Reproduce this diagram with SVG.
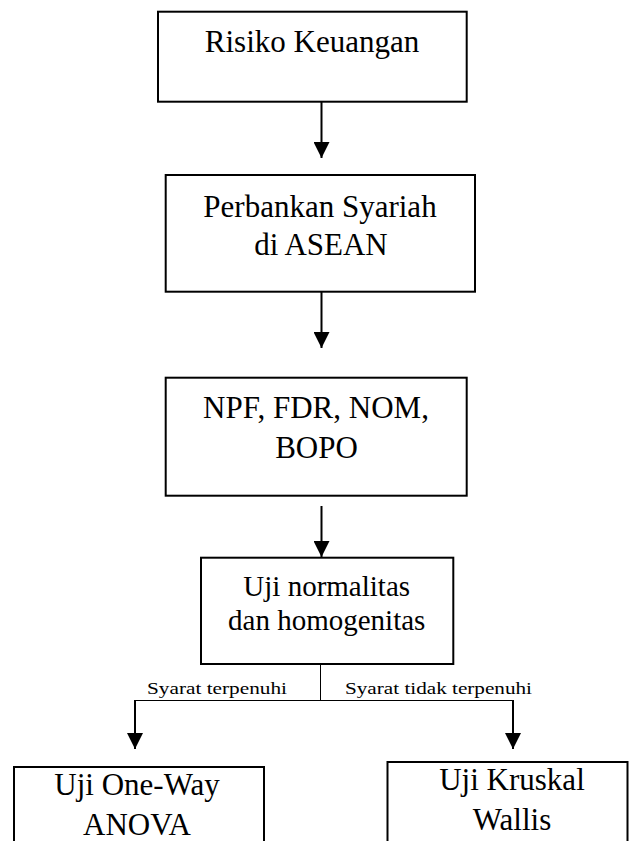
<svg xmlns="http://www.w3.org/2000/svg" width="630" height="841" viewBox="0 0 630 841">
<style>
.box{fill:#fff;stroke:#000;stroke-width:2}
.t{font-family:"Liberation Serif","Times New Roman",serif;font-size:31px;fill:#000;text-anchor:middle}
.t2{font-family:"Liberation Serif","Times New Roman",serif;font-size:29px;fill:#000;text-anchor:middle}
.lbl{font-family:"Liberation Serif","Times New Roman",serif;font-size:17px;fill:#000}
.ln{stroke:#000;stroke-width:2;fill:none}
.thin{stroke:#000;stroke-width:1;fill:none}
</style>
<defs>
<marker id="ah" markerUnits="userSpaceOnUse" markerWidth="18" markerHeight="16" refX="16" refY="8" orient="auto">
<path d="M0,0 L16,8 L0,16 Z" fill="#000"/>
</marker>
</defs>
<rect width="630" height="841" fill="#fff"/>
<g id="connectors">
<line class="ln" x1="321.5" y1="102" x2="321.5" y2="158" marker-end="url(#ah)"/>
<line class="ln" x1="321.5" y1="292" x2="321.5" y2="348" marker-end="url(#ah)"/>
<line class="ln" x1="321.5" y1="506" x2="321.5" y2="557" marker-end="url(#ah)"/>
<line class="thin" x1="320.5" y1="664" x2="320.5" y2="700"/>
<line class="thin" x1="135" y1="700.5" x2="513" y2="700.5"/>
<line class="ln" x1="135" y1="700" x2="135" y2="749" marker-end="url(#ah)"/>
<line class="ln" x1="513" y1="700" x2="513" y2="749" marker-end="url(#ah)"/>
<text class="lbl" x="147" y="694" textLength="140" lengthAdjust="spacingAndGlyphs">Syarat terpenuhi</text>
<text class="lbl" x="345" y="694" textLength="187" lengthAdjust="spacingAndGlyphs">Syarat tidak terpenuhi</text>
</g>
<g id="n1">
<rect class="box" x="158" y="11.7" width="308.7" height="90"/>
<text class="t" x="312" y="52">Risiko Keuangan</text>
</g>
<g id="n2">
<rect class="box" x="165.7" y="175" width="309.3" height="116.7"/>
<text class="t" x="320" y="216.7">Perbankan Syariah</text>
<text class="t" x="321" y="255">di ASEAN</text>
</g>
<g id="n3">
<rect class="box" x="165.7" y="377.7" width="301" height="118"/>
<text class="t" x="316" y="418">NPF, FDR, NOM,</text>
<text class="t" x="316.5" y="457.7">BOPO</text>
</g>
<g id="n4">
<rect class="box" x="201" y="557.7" width="252.3" height="106.3"/>
<text class="t2" x="326.7" y="596">Uji normalitas</text>
<text class="t2" x="326.7" y="630">dan homogenitas</text>
</g>
<g id="n5">
<rect class="box" x="14" y="767" width="250" height="90"/>
<text class="t" x="137" y="795">Uji One-Way</text>
<text class="t" x="137" y="835">ANOVA</text>
</g>
<g id="n6">
<rect class="box" x="387.5" y="762" width="240" height="95"/>
<text class="t" x="512" y="790">Uji Kruskal</text>
<text class="t" x="512" y="830">Wallis</text>
</g>
</svg>
